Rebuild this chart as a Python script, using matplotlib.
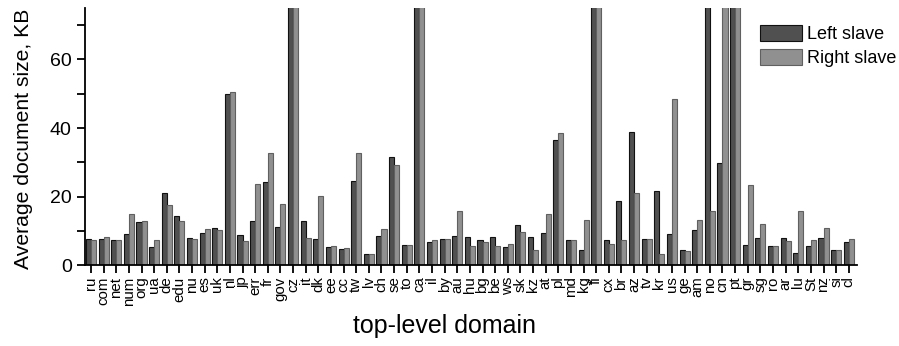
"""Average document size per top-level domain, left vs right slave"""

import matplotlib
matplotlib.use('Agg')
import numpy as np
from matplotlib import pyplot as plt
from matplotlib.ticker import MultipleLocator

plt.rcParams['font.family'] = ['Liberation Sans', 'DejaVu Sans']

domains = ['ru', 'com', 'net', 'num', 'org', 'ua', 'de', 'edu', 'nu', 'es',
           'uk', 'nl', 'jp', 'err', 'fr', 'gov', 'cz', 'it', 'dk', 'ee',
           'cc', 'tw', 'lv', 'ch', 'se', 'to', 'ca', 'il', 'by', 'au',
           'hu', 'bg', 'be', 'ws', 'sk', 'kz', 'at', 'pl', 'md', 'kg',
           'fi', 'cx', 'br', 'az', 'tv', 'kr', 'us', 'ge', 'am', 'no',
           'cn', 'pt', 'gr', 'sg', 'ro', 'ar', 'lu', 'St', 'nz', 'si', 'cl']

# values above 75 run off the top of the plot
left_slave = [7.6, 7.6, 7.3, 9.2, 12.6, 5.5, 21.1, 14.5, 8.1, 9.6,
              10.8, 50.0, 9.0, 12.9, 24.3, 11.1, 80.0, 12.9, 7.8, 5.5,
              4.8, 24.6, 3.2, 8.5, 31.5, 6.1, 80.0, 6.9, 7.6, 8.5,
              8.4, 7.4, 8.2, 5.5, 11.7, 8.4, 9.6, 36.5, 7.5, 4.5,
              80.0, 7.5, 18.7, 38.9, 7.8, 21.6, 9.2, 4.4, 10.3, 80.0,
              29.8, 80.0, 6.1, 7.9, 5.8, 8.1, 3.5, 5.8, 8.1, 4.6, 6.7]
right_slave = [7.4, 8.4, 7.3, 14.9, 13.1, 7.3, 17.5, 13.0, 7.6, 10.5,
               10.2, 50.5, 7.2, 23.6, 32.7, 17.8, 80.0, 8.1, 20.2, 5.7,
               5.0, 32.9, 3.3, 10.7, 29.3, 6.1, 80.0, 7.3, 7.8, 15.8,
               5.7, 6.7, 5.7, 6.2, 9.7, 4.5, 14.9, 38.5, 7.3, 13.3,
               80.0, 6.3, 7.3, 21.0, 7.8, 3.2, 48.5, 4.1, 13.2, 15.8,
               80.0, 80.0, 23.3, 12.0, 5.6, 7.0, 15.8, 7.3, 11.0, 4.4, 7.7]

fig = plt.figure(figsize=(8.99, 3.46), dpi=100)
ax = fig.add_axes([0.0946, 0.2327, 0.8584, 0.7443])

x = np.arange(len(domains))
width = 0.4
ax.bar(x - width / 2, left_slave, width, color='#505050', edgecolor='#111111',
       linewidth=0.8, label='Left slave')
ax.bar(x + width / 2, right_slave, width, color='#909090', edgecolor='#606060',
       linewidth=0.8, label='Right slave')

ax.set_xlim(-0.47, len(domains) - 0.37)
ax.set_ylim(0, 75)
ax.spines['top'].set_visible(False)
ax.spines['right'].set_visible(False)
ax.spines['left'].set_linewidth(1.3)
ax.spines['bottom'].set_linewidth(1.3)

ax.set_xticks(x)
ax.set_xticklabels(domains, rotation=90, fontsize=10.8)
ax.yaxis.set_major_locator(MultipleLocator(20))
ax.yaxis.set_minor_locator(MultipleLocator(10))
ax.tick_params(axis='both', which='both', direction='out', width=1.3)
ax.tick_params(axis='y', which='major', length=6, labelsize=14)
ax.tick_params(axis='y', which='minor', length=6)
ax.tick_params(axis='x', length=6, pad=2)

ax.set_ylabel('Average document size, KB', fontsize=15.2)
ax.yaxis.set_label_coords(-0.067, 0.49)
ax.set_xlabel('top-level domain', fontsize=18)
ax.xaxis.set_label_coords(0.466, -0.19)

ax.legend(loc='upper right', frameon=False, fontsize=13, handlelength=2.3,
          handleheight=1.0, handletextpad=0.3, labelspacing=0.3,
          borderaxespad=0.3, bbox_to_anchor=(1.068, 0.982))

plt.savefig('out.png', dpi=100)
